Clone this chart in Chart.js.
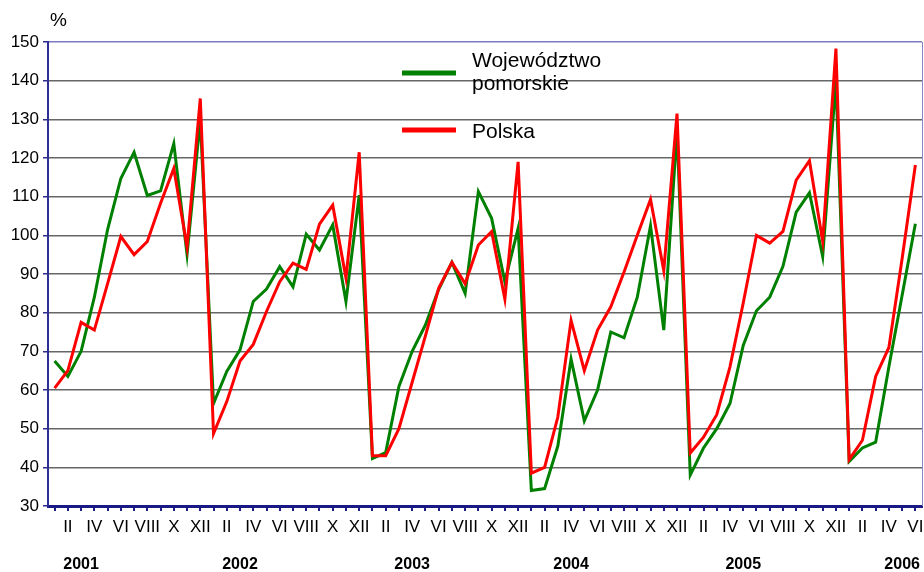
<!DOCTYPE html>
<html lang="pl">
<head>
<meta charset="utf-8">
<title>Województwo pomorskie / Polska</title>
<script src="https://cdn.jsdelivr.net/npm/chart.js"></script>
<style>
  body { margin: 0; background: #fff; }
  #wrap { width: 924px; height: 572px; }
</style>
</head>
<body>
<div id="wrap"><canvas id="wykres" width="924" height="572"></canvas></div>
<script>
// Miesiące (etykiety osi X), I 2001 - VI 2006
const miesiace = [];
const rzymskie = ['I','II','III','IV','V','VI','VII','VIII','IX','X','XI','XII'];
for (let r = 0; r < 6; r++) {
    for (let m = 0; m < 12; m++) {
        if (r === 5 && m > 5) break;
        miesiace.push(rzymskie[m]);
    }
}

// Lata i miesiąc, pod którym stoi podpis roku
const lata = ['2001', '2002', '2003', '2004', '2005', '2006'];
const lataIndeks = [2, 14, 27, 39, 52, 64];

// Wartości w %
const pomorskie = [
    67.5, 63.5, 70, 84, 101.5, 114.7, 121.5, 110.3, 111.5, 123.7, 95, 130,
    56.5, 64.8, 70.4, 82.9, 86.1, 91.9, 86.7, 100.3, 96.2, 102.7, 82.9, 110.4,
    42.3, 43.8, 60.9, 70, 76.8, 86, 93, 85, 111.3, 104.4, 88, 101.8,
    34, 34.5, 45.5, 68, 52, 60, 75, 73.5, 84, 102.5, 75.5, 127,
    38, 45, 50, 56.5, 71.5, 80.5, 84, 92, 106, 111, 94.5, 140,
    41.5, 45, 46.5, 66, 84.5, 103
];
const polska = [
    60.5, 65, 77.5, 75.5, 87.5, 99.7, 95, 98.4, 108.3, 117.3, 97, 135.4,
    48.7, 57, 67.5, 71.8, 80.3, 88, 92.8, 91.2, 102.9, 107.8, 89, 121.5,
    43, 43, 50, 62, 74, 86.3, 93, 87.5, 97.5, 101, 83.5, 119,
    38.5, 40, 53, 78, 65, 75.5, 81.5, 90.5, 100, 109.3, 90.9, 131.5,
    43.7, 47.8, 53.6, 66, 82.5, 100, 98, 101, 114.3, 119.3, 98.5, 148.3,
    42, 47, 63.5, 71, 94, 118.2
];

// Wiersz z latami dla drugiej osi X
const etykietyLat = miesiace.map((m, i) => {
    const k = lataIndeks.indexOf(i);
    return k >= 0 ? lata[k] : '';
});

Chart.defaults.font.family = "'Liberation Sans', Arial, sans-serif";
Chart.defaults.color = '#000';

// bez dodatkowego marginesu na wystające etykiety
function dopasuj(wys) {
    return s => {
        s.height = wys;
        s.paddingLeft = 0;
        s.paddingRight = 0;
    };
}

// Legenda, znak % i prawa ramka
const dodatki = {
    id: 'dodatki',
    afterDraw(chart) {
        const ctx = chart.ctx;
        const a = chart.chartArea;
        ctx.save();
        ctx.strokeStyle = '#8585c8';
        ctx.lineWidth = 1;
        ctx.beginPath();
        ctx.moveTo(a.right + 0.5, a.top);
        ctx.lineTo(a.right + 0.5, a.bottom);
        ctx.stroke();

        ctx.fillStyle = '#000';
        ctx.font = "19px 'Liberation Sans', Arial, sans-serif";
        ctx.textBaseline = 'middle';
        ctx.textAlign = 'left';
        ctx.fillText('%', 50, 21);

        const ds = chart.data.datasets;
        ctx.lineWidth = 5;
        ctx.strokeStyle = ds[0].borderColor;
        ctx.beginPath(); ctx.moveTo(402, 73); ctx.lineTo(456, 73); ctx.stroke();
        ctx.strokeStyle = ds[1].borderColor;
        ctx.beginPath(); ctx.moveTo(402, 130); ctx.lineTo(456, 130); ctx.stroke();

        ctx.font = "21px 'Liberation Sans', Arial, sans-serif";
        ctx.fillText('Województwo', 472, 61);
        ctx.fillText('pomorskie', 472, 84);
        ctx.fillText('Polska', 472, 132);
        ctx.restore();
    }
};

new Chart(document.getElementById('wykres'), {
    type: 'line',
    data: {
        labels: miesiace,
        datasets: [{
            label: 'Województwo pomorskie',
            data: pomorskie,
            borderColor: '#008000',
            borderWidth: 3,
            pointRadius: 0,
            tension: 0,
            order: 1
        }, {
            label: 'Polska',
            data: polska,
            borderColor: '#ff0000',
            borderWidth: 3,
            pointRadius: 0,
            tension: 0,
            order: 0
        }]
    },
    options: {
        responsive: false,
        devicePixelRatio: 1,
        animation: false,
        layout: { padding: { top: 42, right: 2, left: 0, bottom: 0 } },
        plugins: { legend: { display: false }, tooltip: { enabled: false } },
        scales: {
            x: {
                weight: 1,
                offset: true,
                afterFit: dopasuj(30),
                grid: {
                    drawOnChartArea: false,
                    tickLength: 5,
                    color: '#1c1c8c',
                    lineWidth: 2
                },
                border: { color: '#1a1a86', width: 3 },
                ticks: {
                    autoSkip: false,
                    maxRotation: 0,
                    padding: 6,
                    font: { size: 17 },
                    callback: function (v, i) { return i % 2 === 1 ? miesiace[i] : ''; }
                }
            },
            lata: {
                type: 'category',
                position: 'bottom',
                weight: 2,
                offset: true,
                labels: etykietyLat,
                afterFit: dopasuj(36),
                grid: { display: false },
                border: { display: false },
                ticks: {
                    autoSkip: false,
                    maxRotation: 0,
                    padding: 11,
                    font: { size: 16, weight: 'bold', family: "'Liberation Sans Narrow', 'Arial Narrow', 'Liberation Sans', Arial, sans-serif" }
                }
            },
            y: {
                min: 30,
                max: 150,
                afterFit: s => { s.width = 48; },
                grid: {
                    color: c => c.tick && c.tick.value === 150 ? '#7b7bc2' : '#666',
                    lineWidth: 1.5,
                    tickColor: '#2b2b90',
                    tickLength: 5
                },
                border: { color: '#2e2e96', width: 2 },
                ticks: {
                    stepSize: 10,
                    padding: 4,
                    font: { size: 17 }
                }
            }
        }
    },
    plugins: [dodatki]
});
</script>
</body>
</html>
